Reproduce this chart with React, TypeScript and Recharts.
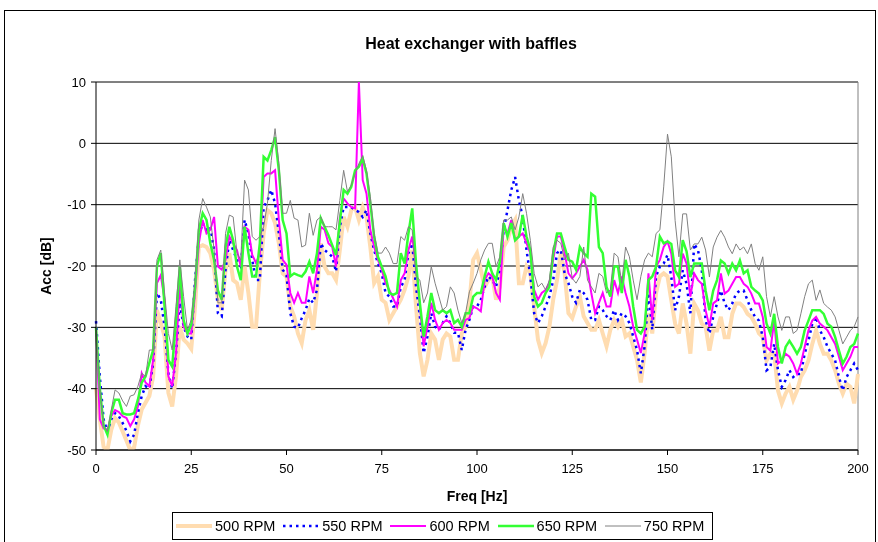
import { CartesianGrid, Line, LineChart, ReferenceLine, XAxis, YAxis } from 'recharts'

// frequency bins, 1 Hz apart
const FREQS = Array.from({ length: 201 }, (_, i) => i)

const X_TICKS = [0, 25, 50, 75, 100, 125, 150, 175, 200]
const Y_TICKS = [-50, -40, -30, -20, -10, 0, 10]

// dB values, one per Hz (0..200)
const RPM500 = [
  -40, -45, -49.5, -50, -46.7, -44.8, -45.5, -47, -48.5, -50, -49.6, -46, -43.4, -42.3, -41.2, -38, -27.2, -29.3, -31.5, -40.7,
  -42.9, -38, -29.9, -32, -32.6, -33.5, -26.6, -16.9, -16.6, -16.9, -17.9, -20.6, -25.5, -27.2, -20.6, -17.9, -22.3, -22.8, -25.5, -20.1,
  -24.4, -29.9, -29.9, -21.2, -14.7, -10.9, -11.4, -13, -16.3, -21.2, -21.7, -26.6, -28.2, -31, -32.6, -28.8, -27.2, -30.4, -24.4, -16.3,
  -20.1, -21.2, -21.2, -22.3, -17.4, -12, -13.6, -10.9, -10.4, -12.5, -10.4, -12, -16.9, -22.8, -21.7, -25.5, -26, -28.8, -27.7, -26.6,
  -25.5, -23.9, -21.7, -17.4, -26.6, -34.2, -38, -35.3, -31, -32, -35.3, -32, -31, -31.5, -35.3, -35.3, -31, -29.9, -26, -19,
  -17.9, -20.6, -23.4, -22.3, -21.7, -25.5, -23.4, -16.9, -15.8, -13.6, -12.5, -22.8, -22.8, -20.1, -21.2, -26.6, -32, -34.2, -32.6, -29.9,
  -25.5, -22.3, -17.9, -21.2, -27.7, -28.5, -26.6, -25, -28.2, -29.3, -30.4, -30.4, -28.8, -31, -33.1, -30.4, -28.8, -29.9, -28.8, -31.5,
  -31, -33.1, -35.3, -39, -34.2, -27.7, -31, -24.4, -21.7, -21.2, -21.7, -25.6, -29.4, -31, -26.1, -29.4, -34.3, -26.1, -27.2, -29.4,
  -29.9, -33.8, -30.5, -30.5, -28.3, -31.6, -31.6, -27.8, -26.1, -26.1, -26.7, -27.8, -28.3, -29.4, -31, -31.6, -35.4, -34.3, -34.3, -40.3,
  -42.4, -40.8, -39.7, -41.8, -40.3, -38.1, -37, -35.4, -32.7, -30.5, -32.7, -34.3, -34.3, -35.4, -37, -39.2, -40.8, -39.2, -39.7, -42.4,
  -37.6,
]

const RPM550 = [
  -29, -38, -45, -47, -45, -44, -44.5, -45.6, -46.9, -48.6, -47.5, -44, -41.2, -39.6, -40, -35.8, -24.4, -25.5, -29.9, -37.5,
  -40, -34.2, -26, -29.9, -31.5, -32, -22.3, -15.2, -13, -14.1, -13.6, -17.4, -27.7, -28.2, -20.6, -15.8, -17.4, -19, -20.1, -12.5,
  -14.7, -19, -22.3, -22.3, -10.4, -9.3, -7.6, -9.8, -14.7, -20.6, -21.5, -27.7, -29.9, -30.1, -28.5, -27.2, -25.3, -26, -23.9, -16.3,
  -17.4, -17.9, -18.5, -20.9, -13.6, -10.4, -10.4, -10.4, -10.9, -11.2, -12, -10.9, -14.7, -17.4, -19.6, -21.2, -24.4, -25, -26.6, -26.6,
  -23.4, -22.3, -17.9, -16.3, -23.4, -28.2, -34.2, -31.5, -27.7, -29.9, -30.4, -29.3, -28.2, -29.3, -30.9, -30.9, -33.7, -30.4, -28.8, -26.6,
  -26.6, -25.5, -23.4, -21.7, -22.3, -23.4, -20.6, -14.1, -10.9, -7.6, -5.5, -9.3, -12, -17.4, -21.7, -27.7, -29.3, -28.2, -26.6, -25,
  -22.3, -17.9, -17.4, -21.2, -22.8, -25, -26, -23.9, -24.4, -25.5, -28.8, -28.8, -26.6, -27.2, -28.2, -28.8, -27.2, -28.8, -27.7, -28.2,
  -29.3, -31.5, -33.7, -37.5, -33.1, -24.4, -30.4, -21.7, -20.1, -19.6, -18.2, -21.8, -27.2, -25, -20.7, -22.9, -27.7, -16.4, -17.4, -20.7,
  -28.9, -31, -28.3, -26.1, -24, -26.1, -27.2, -26.1, -24.5, -24, -24, -25.6, -27.2, -28.3, -28.9, -31.6, -37, -36.5, -32.7, -37,
  -39.7, -38.6, -37, -38.1, -37.6, -37.6, -34.3, -32.2, -29.4, -28.3, -30.5, -31.6, -33.2, -34.3, -35.4, -38.1, -40.3, -38.1, -37, -35.9,
  -37,
]

const RPM600 = [
  -30, -45, -46.5, -46.7, -44.5, -43.5, -43.8, -44.5, -44.8, -46.1, -45, -42.9, -37.5, -39, -39.6, -35.3, -22.8, -21.5, -25.5, -38,
  -39.6, -34.2, -22.8, -29.9, -31, -31, -24.4, -16.3, -12.5, -14.7, -14.1, -12, -20.1, -20.6, -19, -15.2, -16.3, -17.4, -20.1, -13.6,
  -14.1, -18.2, -19.5, -18, -5.5, -4.9, -4.9, -4.4, -12.5, -19, -19.8, -24.4, -26, -24.4, -26, -26, -21.7, -24.4, -20.6, -13.6,
  -14.1, -16.3, -16.9, -20.1, -12, -9, -9.8, -10.4, -10.6, 10, -6, -8.2, -14.1, -16.9, -19, -20.6, -22.8, -23.9, -25.3, -26.6,
  -22.3, -21.2, -17.4, -15.2, -20.1, -26.6, -33.1, -29.9, -26, -28.8, -30.4, -29.3, -28.8, -29.3, -30.4, -30.4, -30.4, -28.8, -28.5, -26.6,
  -26.9, -27.4, -22.3, -21.2, -21.7, -24.4, -25.5, -13.6, -14.7, -12.5, -15.8, -15.2, -14.7, -16.3, -17.9, -23.9, -25.5, -24.4, -23.9, -22.8,
  -19, -15.2, -15.2, -17.9, -21.2, -22, -21.2, -20.1, -19, -20.6, -24.4, -27.7, -26, -24.4, -26.6, -26.6, -22.3, -24.4, -21.7, -24.4,
  -26.6, -29.9, -32, -34.2, -31, -21.2, -28.8, -20.1, -19, -16.9, -16, -18, -23.4, -22.9, -18, -19.6, -25, -21.2, -22.3, -22.9,
  -27.2, -29.9, -26.1, -25.6, -21.2, -24.5, -24, -22.9, -21.8, -21.8, -22.9, -23.4, -24.5, -26.1, -26.1, -28.3, -33.2, -33.8, -28.9, -35.9,
  -35.4, -34.3, -34.8, -35.9, -37.6, -35.9, -33.2, -30.5, -28.9, -28.3, -29.4, -29.9, -30.5, -31.6, -32.7, -34.8, -37, -35.9, -34.8, -33.2,
  -33.2,
]

const RPM650 = [
  -30, -40, -46, -47.5, -44, -41.8, -41.8, -44, -44.2, -44.2, -44, -41.8, -39, -38, -35.8, -33.7, -20, -17.9, -26.6, -35.3,
  -36.4, -28.8, -20, -28.8, -31, -29.6, -23.4, -14.1, -11.4, -12.5, -16.3, -19, -24, -25.5, -16.9, -13.6, -15.8, -20.1, -22.3, -13.6,
  -17.9, -21.7, -21.7, -16.3, -2.2, -2.8, -1.1, 1, -4.4, -12.5, -14.7, -21.7, -21.2, -21.5, -21.7, -20.9, -19.3, -21.2, -17.9, -12.2,
  -13.6, -15, -16.6, -18.2, -12.8, -7.6, -8.2, -7.1, -4.4, -3.8, -2.5, -4.9, -9.8, -15.2, -18.5, -20.1, -21.7, -24.4, -24.7, -24.4,
  -17.9, -19.6, -14.7, -10.6, -19.6, -26, -31.5, -28.2, -24.4, -27.2, -27.7, -27.2, -27.7, -27.2, -29.3, -28.8, -29.9, -27.7, -27.7, -25,
  -24.4, -24.4, -21.7, -19.3, -21.2, -22.3, -19.3, -13, -15.2, -13, -15.8, -15.2, -11.7, -15.2, -17.4, -25, -26.6, -26, -24.4, -23.4,
  -17.9, -14.7, -14.7, -16.9, -19, -19.3, -20.6, -16.9, -17.9, -18.5, -8.2, -8.7, -16.9, -17.9, -23.4, -25, -20.1, -20.1, -24.4, -19,
  -21.7, -26.6, -30.4, -31, -29.9, -22.3, -21.7, -20.1, -15.2, -16.3, -16, -16.4, -20.7, -21.8, -15.8, -17.6, -21.8, -19.6, -19.6, -19.6,
  -24, -27.2, -24, -22.3, -19.1, -19.6, -21.2, -19.6, -20.7, -19.1, -21.2, -20.7, -23.4, -24, -24.5, -25.6, -29.4, -31, -27.8, -33.2,
  -35.9, -33.2, -32.2, -33.2, -34.3, -33.2, -30.5, -28.9, -27.2, -27.2, -27.2, -27.8, -29.4, -29.9, -31.6, -33.8, -35.9, -34.8, -33.2, -32.7,
  -31,
]

const RPM750 = [
  -29.9, -40, -46, -47, -43.5, -40.2, -40.7, -42, -42.9, -41.2, -41, -39.6, -37.5, -38, -33.7, -33.7, -19, -17.4, -24.4, -31,
  -33.7, -26.6, -19, -25, -30.4, -28.8, -22.3, -12.5, -9, -10.4, -12, -17.4, -26, -26, -14.7, -11.7, -12, -17.9, -19, -6,
  -7.6, -15.2, -15.8, -15.2, -13.6, -9.8, -2.8, 2.4, -3.3, -11.4, -11.4, -9.3, -12.2, -12.5, -16.9, -16.6, -11.4, -15, -12.5, -12,
  -13.6, -13.6, -13.6, -14.1, -9.3, -4.4, -7.9, -6.8, -4.9, -3.3, -2, -4.4, -8.7, -14.7, -17.9, -17.9, -16.9, -17.9, -19.6, -19.6,
  -15.2, -15.8, -13.6, -14.1, -21.7, -22.3, -26, -24.4, -20.1, -22.8, -25, -27.2, -26.6, -23.4, -24.4, -27.2, -29.3, -27.7, -24.2, -22.8,
  -21.2, -19, -17.4, -16.3, -16.3, -20.1, -18.5, -12.5, -12.5, -12, -14.1, -12, -8.2, -11.4, -15.8, -21.2, -23.4, -22.8, -23.9, -22.3,
  -16.9, -15.8, -16.3, -19, -17.9, -22, -22.8, -21.7, -16.9, -22.3, -23.4, -24.4, -21.2, -21.7, -24.4, -23.9, -17.9, -18.5, -22.8, -16.9,
  -18.5, -22.3, -25.5, -21.7, -19, -17.9, -18.5, -14.7, -14.1, -7.1, 1.5, -2.2, -12.6, -18.5, -11.5, -11.5, -17.4, -16.4, -16.4, -15.3,
  -17.4, -21.8, -16.9, -15.3, -14.2, -15.3, -16.9, -18, -16.4, -17.4, -16.9, -18, -16.4, -19.6, -20.7, -18.5, -25, -28.3, -25, -28.3,
  -30.5, -28.3, -28.3, -31, -30.5, -27.8, -25, -22.9, -22.3, -25.6, -23.9, -26.1, -26.7, -27.2, -28.3, -30.5, -32.7, -31.6, -30.5, -29.9,
  -28.3,
]

const SERIES = [
  { key: 'r500', name: '500 RPM', color: '#ffdcb0', width: 4, dash: undefined },
  { key: 'r550', name: '550 RPM', color: '#0000ff', width: 2.5, dash: '2.5 4' },
  { key: 'r600', name: '600 RPM', color: '#ff00ff', width: 2, dash: undefined },
  { key: 'r650', name: '650 RPM', color: '#33ff33', width: 2.5, dash: undefined },
  { key: 'r750', name: '750 RPM', color: '#808080', width: 1, dash: undefined },
]

const rows = FREQS.map((f, i) => ({
  f,
  r500: RPM500[i],
  r550: RPM550[i],
  r600: RPM600[i],
  r650: RPM650[i],
  r750: RPM750[i],
}))

const FONT = '"Liberation Sans", Arial, sans-serif'

export default function App() {
  return (
    <div style={{ position: 'relative', width: 862, height: 532, fontFamily: FONT, color: '#000' }}>
      {/* outer chart frame (fixed to the viewport so it is not clipped by the root box) */}
      <div
        style={{
          position: 'fixed',
          left: 4,
          top: 10,
          width: 870,
          height: 540,
          borderTop: '1px solid #000',
          borderLeft: '1px solid #000',
          borderRight: '1px solid #000',
          pointerEvents: 'none',
        }}
      />

      <div
        style={{
          position: 'absolute',
          left: 463,
          top: 36,
          transform: 'translate(-50%, -50%)',
          fontSize: 16,
          fontWeight: 'bold',
          whiteSpace: 'nowrap',
        }}
      >
        Heat exchanger with baffles
      </div>

      <div style={{ position: 'absolute', left: 0, top: 0 }}>
        <LineChart width={862} height={532} data={rows} margin={{ top: 74, right: 12, bottom: 60, left: 28 }}>
          <CartesianGrid vertical={false} stroke="#000" strokeWidth={1} />
          <XAxis
            dataKey="f"
            type="number"
            domain={[0, 200]}
            ticks={X_TICKS}
            interval={0}
            tickSize={5}
            tickMargin={9}
            height={30}
            axisLine={{ stroke: '#000' }}
            tickLine={{ stroke: '#000' }}
            tick={{ fill: '#000', fontSize: 13, fontFamily: FONT }}
          />
          <YAxis
            type="number"
            domain={[-50, 10]}
            ticks={Y_TICKS}
            interval={0}
            allowDataOverflow
            width={60}
            tickSize={5}
            tickMargin={5}
            axisLine={{ stroke: '#000' }}
            tickLine={{ stroke: '#000' }}
            tick={{ fill: '#000', fontSize: 13, fontFamily: FONT }}
          />
          <ReferenceLine y={10} stroke="#808080" />
          <ReferenceLine x={200} stroke="#808080" />
          {SERIES.map((s) => (
            <Line
              key={s.key}
              type="linear"
              dataKey={s.key}
              name={s.name}
              stroke={s.color}
              strokeWidth={s.width}
              strokeDasharray={s.dash}
              dot={false}
              isAnimationActive={false}
            />
          ))}
        </LineChart>
      </div>

      <div
        style={{
          position: 'absolute',
          left: 469,
          top: 488,
          transform: 'translate(-50%, -50%)',
          fontSize: 14,
          fontWeight: 'bold',
          whiteSpace: 'nowrap',
        }}
      >
        Freq [Hz]
      </div>
      <div
        style={{
          position: 'absolute',
          left: 38,
          top: 258,
          transform: 'translate(-50%, -50%) rotate(-90deg)',
          fontSize: 14,
          fontWeight: 'bold',
          whiteSpace: 'nowrap',
        }}
      >
        Acc [dB]
      </div>

      {/* legend */}
      <div
        style={{
          position: 'absolute',
          left: 164,
          top: 504,
          width: 541,
          height: 28,
          border: '1px solid #000',
          display: 'flex',
          alignItems: 'center',
          paddingLeft: 3,
          boxSizing: 'border-box',
          background: '#fff',
        }}
      >
        {SERIES.map((s) => (
          <div key={s.key} style={{ display: 'flex', alignItems: 'center', width: 107.5, fontSize: 14.5 }}>
            <svg width={36} height={8} style={{ marginRight: 3, flexShrink: 0 }}>
              <line x1={0} y1={4} x2={36} y2={4} stroke={s.color} strokeWidth={s.width} strokeDasharray={s.dash} />
            </svg>
            <span style={{ whiteSpace: 'nowrap' }}>{s.name}</span>
          </div>
        ))}
      </div>
    </div>
  )
}
